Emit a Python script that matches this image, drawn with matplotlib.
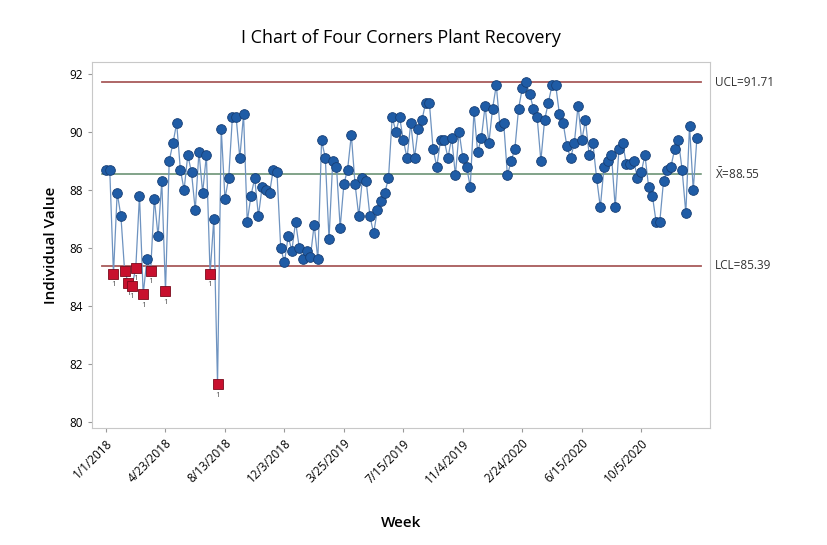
import numpy as np
import matplotlib.pyplot as plt

plt.rcParams['font.family'] = ['Open Sans', 'DejaVu Sans']

# Weekly plant recovery (%)
recovery = [
    88.7, 88.7, 85.1, 87.9, 87.1, 85.2, 84.8, 84.7, 85.3, 87.8,
    84.4, 85.6, 85.2, 87.7, 86.4, 88.3, 84.5, 89.0, 89.6, 90.3,
    88.7, 88.0, 89.2, 88.6, 87.3, 89.3, 87.9, 89.2, 85.1, 87.0,
    81.3, 90.1, 87.7, 88.4, 90.5, 90.5, 89.1, 90.6, 86.9, 87.8,
    88.4, 87.1, 88.1, 88.0, 87.9, 88.7, 88.6, 86.0, 85.5, 86.4,
    85.9, 86.9, 86.0, 85.6, 85.9, 85.7, 86.8, 85.6, 89.7, 89.1,
    86.3, 89.0, 88.8, 86.7, 88.2, 88.7, 89.9, 88.2, 87.1, 88.4,
    88.3, 87.1, 86.5, 87.3, 87.6, 87.9, 88.4, 90.5, 90.0, 90.5,
    89.7, 89.1, 90.3, 89.1, 90.1, 90.4, 91.0, 91.0, 89.4, 88.8,
    89.7, 89.7, 89.1, 89.8, 88.5, 90.0, 89.1, 88.8, 88.1, 90.7,
    89.3, 89.8, 90.9, 89.6, 90.8, 91.6, 90.2, 90.3, 88.5, 89.0,
    89.4, 90.8, 91.5, 91.7, 91.3, 90.8, 90.5, 89.0, 90.4, 91.0,
    91.6, 91.6, 90.6, 90.3, 89.5, 89.1, 89.6, 90.9, 89.7, 90.4,
    89.2, 89.6, 88.4, 87.4, 88.8, 89.0, 89.2, 87.4, 89.4, 89.6,
    88.9, 88.9, 89.0, 88.4, 88.6, 89.2, 88.1, 87.8, 86.9, 86.9,
    88.3, 88.7, 88.8, 89.4, 89.7, 88.7, 87.2, 90.2, 88.0, 89.8,
]
tick_idx = [0, 16, 32, 48, 64, 80, 96, 112, 128, 144]
tick_labels = ['1/1/2018', '4/23/2018', '8/13/2018', '12/3/2018', '3/25/2019',
               '7/15/2019', '11/4/2019', '2/24/2020', '6/15/2020', '10/5/2020']
ucl, center, lcl = 91.71, 88.55, 85.39

y = np.array(recovery)
x = np.arange(len(y))
out = y < lcl

fig = plt.figure(figsize=(8.28, 5.45), dpi=100)
ax = fig.add_axes([0.111, 0.215, 0.746, 0.671])

# control limits and center line
ax.plot([x[0] - 1, x[-1] + 1], [ucl, ucl], color='#a85a5a', lw=1.3, zorder=1)
ax.plot([x[0] - 1, x[-1] + 1], [lcl, lcl], color='#a85a5a', lw=1.3, zorder=1)
ax.plot([x[0] - 1, x[-1] + 1], [center, center], color='#5f8a6a', lw=1.1, zorder=1)

ax.plot(x, y, color='#6e93c0', lw=0.9, zorder=2)
ax.plot(x[~out], y[~out], 'o', ms=7, color='#1f5ca6', mec='#173f75', mew=0.6, zorder=3)
ax.plot(x[out], y[out], 's', ms=6.5, color='#c8102e', mec='#7a0a1c', mew=0.6, zorder=4)
for xi, yi in zip(x[out], y[out]):
    ax.text(xi, yi - 0.25, '1', ha='center', va='top', fontsize=6, color='#555555')

ax.set_xlim(-3.8, 162.4)
ax.set_ylim(79.8, 92.4)
ax.set_yticks(range(80, 93, 2))
ax.set_xticks(tick_idx)
ax.set_xticklabels(tick_labels, rotation=45, ha='right', rotation_mode='anchor', fontsize=8.5)
ax.tick_params(axis='y', labelsize=8.5, length=3, color='#999999')
ax.tick_params(axis='x', length=3, color='#999999')
for s in ax.spines.values():
    s.set_color('#c8c8c8')

ax.set_title('I Chart of Four Corners Plant Recovery', fontsize=13, pad=14)
ax.set_ylabel('Individual Value', fontsize=11, labelpad=8, fontweight='semibold')
ax.set_xlabel('Week', fontsize=11, labelpad=22, fontweight='semibold')

# limit labels on the right
tx = ax.get_xlim()[1] + 1.5
ax.text(tx, ucl, 'UCL=91.71', va='center', fontsize=8.5, color='#333333', clip_on=False)
ax.text(tx, center, r'$\bar{\mathregular{X}}$=88.55', va='center', fontsize=8.5, color='#333333', clip_on=False)
ax.text(tx, lcl, 'LCL=85.39', va='center', fontsize=8.5, color='#333333', clip_on=False)

fig.savefig('out.png', dpi=100)
